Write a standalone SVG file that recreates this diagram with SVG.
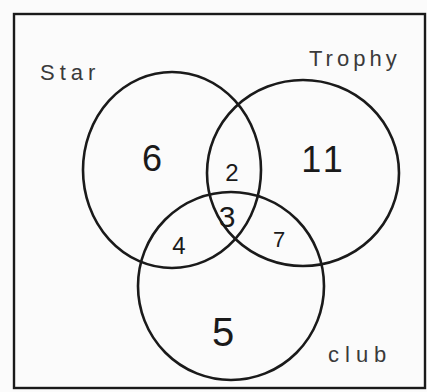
<svg xmlns="http://www.w3.org/2000/svg" width="427" height="392" viewBox="0 0 427 392">
<style>
.set{fill:none;stroke:#1a1a1a;stroke-width:2.6}
.num{font-family:"Liberation Sans",Arial,sans-serif;fill:#1a1a1a;text-anchor:middle}
.lbl{font-family:"Liberation Sans",Arial,sans-serif;fill:#3a3a3a;font-size:22px}
</style>
<rect width="427" height="392" fill="#fbfbfb"/>
<rect id="frame" x="14" y="14" width="411" height="374" fill="none" stroke="#1a1a1a" stroke-width="2.4"/>
<g id="star">
<ellipse class="set" cx="172" cy="170" rx="89" ry="98"/>
<text class="lbl" x="40" y="80" font-size="26" letter-spacing="5" fill="#222">Star</text>
</g>
<g id="trophy">
<ellipse class="set" cx="303" cy="173" rx="96" ry="93"/>
<text class="lbl" x="309" y="66" letter-spacing="4" fill="#555">Trophy</text>
</g>
<g id="club">
<ellipse class="set" cx="231" cy="286" rx="93" ry="94"/>
<text class="lbl" x="328" y="362" letter-spacing="6" fill="#555">club</text>
</g>
<g id="regions">
<text class="num" x="152" y="171" font-size="36">6</text>
<text class="num" x="232" y="181" font-size="24">2</text>
<text class="num" x="324" y="172" font-size="36" letter-spacing="4">11</text>
<text class="num" x="227" y="227" font-size="30">3</text>
<text class="num" x="179" y="254" font-size="24">4</text>
<text class="num" x="279" y="247" font-size="22">7</text>
<text class="num" x="223" y="346" font-size="40">5</text>
</g>
</svg>
